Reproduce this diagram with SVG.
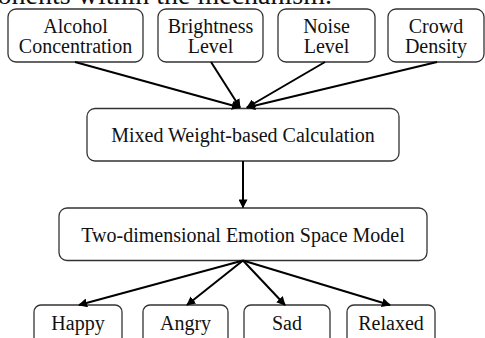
<svg xmlns="http://www.w3.org/2000/svg" width="485" height="338" viewBox="0 0 485 338">
<style>
.box{fill:#fff;stroke:#333;stroke-width:1.3}
.t{font-family:"Liberation Serif","Times New Roman",serif;font-size:20px;fill:#111;text-anchor:middle}
.c{stroke:#000;stroke-width:2;fill:none;marker-end:url(#ah)}
</style>
<defs>
<marker id="ah" viewBox="0 0 10 10" refX="9" refY="5" markerWidth="4.5" markerHeight="4.5" orient="auto" markerUnits="strokeWidth">
<path d="M0,0 L10,5 L0,10 z" fill="#000"/>
</marker>
</defs>
<rect width="485" height="338" fill="#fff"/>
<text x="332" y="4" style="font-family:'Liberation Serif',serif;font-size:28px;fill:#111;text-anchor:end">onents within the mechanism.</text>
<g id="alcohol"><rect class="box" x="8" y="9" width="135" height="53" rx="8"/><text class="t" x="75.5" y="33">Alcohol</text><text class="t" x="75.5" y="53">Concentration</text></g>
<g id="brightness"><rect class="box" x="158" y="9" width="105" height="53" rx="8"/><text class="t" x="210.5" y="33">Brightness</text><text class="t" x="210.5" y="53">Level</text></g>
<g id="noise"><rect class="box" x="278" y="9" width="97" height="53" rx="8"/><text class="t" x="326.5" y="33">Noise</text><text class="t" x="326.5" y="53">Level</text></g>
<g id="crowd"><rect class="box" x="388" y="9" width="96" height="53" rx="8"/><text class="t" x="436" y="33">Crowd</text><text class="t" x="436" y="53">Density</text></g>
<g id="mixed"><rect class="box" x="87" y="108.5" width="312" height="52.5" rx="8"/><text class="t" x="243" y="142">Mixed Weight-based Calculation</text></g>
<g id="model"><rect class="box" x="59" y="208" width="368" height="52.5" rx="8"/><text class="t" x="243" y="242">Two-dimensional Emotion Space Model</text></g>
<g id="happy"><rect class="box" x="34" y="305" width="88" height="45" rx="7"/><text class="t" x="78" y="330">Happy</text></g>
<g id="angry"><rect class="box" x="143" y="305" width="85" height="45" rx="7"/><text class="t" x="185.5" y="330">Angry</text></g>
<g id="sad"><rect class="box" x="244" y="305" width="86" height="45" rx="7"/><text class="t" x="287" y="330">Sad</text></g>
<g id="relaxed"><rect class="box" x="347" y="305" width="88" height="45" rx="7"/><text class="t" x="391" y="330">Relaxed</text></g>
<g id="connectors">
<line class="c" x1="75" y1="62" x2="240" y2="107.5"/>
<line class="c" x1="211" y1="62" x2="240" y2="107.5"/>
<line class="c" x1="325" y1="62" x2="247" y2="107.5"/>
<line class="c" x1="437" y1="62" x2="247" y2="107.5"/>
<line class="c" x1="243" y1="161" x2="243" y2="207.5"/>
<line class="c" x1="243" y1="260.5" x2="79" y2="305"/>
<line class="c" x1="243" y1="260.5" x2="187" y2="305"/>
<line class="c" x1="243" y1="260.5" x2="285" y2="305"/>
<line class="c" x1="243" y1="260.5" x2="390" y2="305"/>
</g>
</svg>
